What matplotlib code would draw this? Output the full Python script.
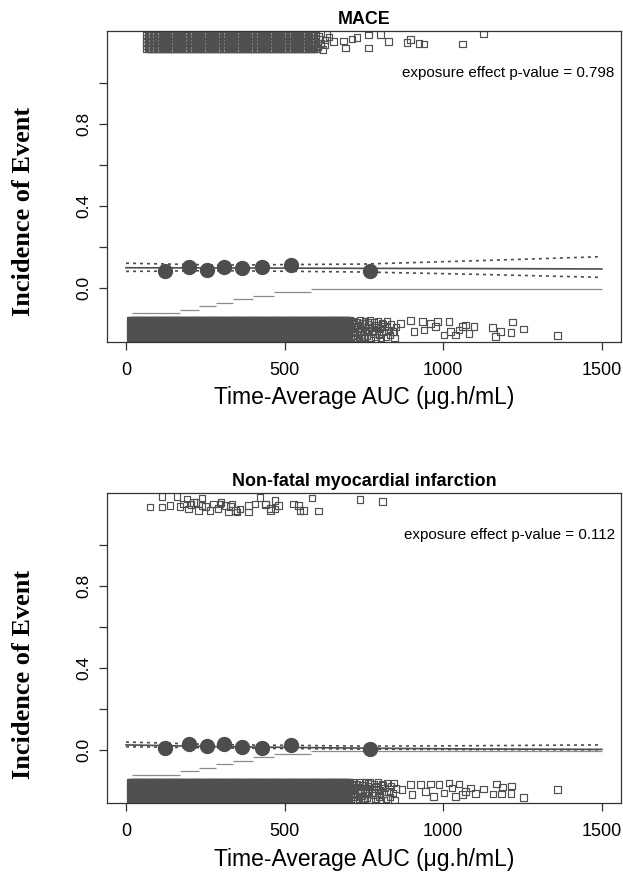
import numpy as np
import matplotlib
matplotlib.use("Agg")
import matplotlib.pyplot as plt

# bins of time-average AUC (shared by both panels)
bin_edges = [20, 170, 230, 283, 336, 399, 467, 584, 1500]
bin_levels = [-0.124, -0.106, -0.088, -0.071, -0.054, -0.037, -0.020, -0.004]
bin_auc = [123, 199, 256, 309, 366, 429, 521, 770]

# logistic fit + 95% CI, read at these AUC values
fit_auc = [0, 300, 750, 1100, 1500]

mace_obs = [0.083, 0.104, 0.088, 0.104, 0.099, 0.101, 0.112, 0.083]
mace_fit = [0.099, 0.098, 0.096, 0.095, 0.093]
mace_hi = [0.121, 0.112, 0.117, 0.133, 0.153]
mace_lo = [0.081, 0.085, 0.078, 0.067, 0.052]

mi_obs = [0.010, 0.028, 0.018, 0.028, 0.013, 0.010, 0.021, 0.006]
mi_fit = [0.024, 0.015, 0.008, 0.004, 0.002]
mi_hi = [0.038, 0.025, 0.018, 0.020, 0.024]
mi_lo = [0.015, 0.009, 0.003, 0.001, 0.000]

# non-event patients (jittered near the bottom), dense part
nonevent_auc = [
    12, 15, 18, 21, 24, 27, 30, 33, 36, 39, 42, 45, 48, 51, 54, 57, 60, 63, 66, 69,
    72, 75, 78, 81, 84, 87, 90, 93, 96, 99, 102, 105, 108, 111, 114, 117, 120, 123,
    126, 129, 132, 135, 138, 141, 144, 147, 150, 153, 156, 159, 162, 165, 168, 171,
    174, 177, 180, 183, 186, 189, 192, 195, 198, 201, 204, 207, 210, 213, 216, 219,
    222, 225, 228, 231, 234, 237, 240, 243, 246, 249, 252, 255, 258, 261, 264, 267,
    270, 273, 276, 279, 282, 285, 288, 291, 294, 297, 300, 303, 306, 309, 312, 315,
    318, 321, 324, 327, 330, 333, 336, 339, 342, 345, 348, 351, 354, 357, 360, 363,
    366, 369, 372, 375, 378, 381, 384, 387, 390, 393, 396, 399, 402, 405, 408, 411,
    414, 417, 420, 423, 426, 429, 432, 435, 438, 441, 444, 447, 450, 453, 456, 459,
    462, 465, 468, 471, 474, 477, 480, 483, 486, 489, 492, 495, 498, 501, 504, 507,
    510, 513, 516, 519, 522, 525, 528, 531, 534, 537, 540, 543, 546, 549, 552, 555,
    558, 561, 564, 567, 570, 573, 576, 579, 582, 585, 588, 591, 594, 597, 600, 603,
    606, 609, 612, 615, 618, 621, 624, 627, 630, 633, 636, 639, 642, 645, 648, 651,
    654, 657, 660, 663, 666, 669, 672, 675, 678, 681, 684, 687, 690, 693, 696, 699, 702]
nonevent_jitter = [-0.158, -0.175, -0.192, -0.209, -0.226, -0.243]

# thinner stretch of non-events
nonevent_mid_x = [704, 706, 709, 711, 714, 716, 719, 721, 724, 727, 729, 732, 735, 737,
                  740, 743, 746, 748, 751, 754, 757, 760, 763, 766, 769, 772, 775, 778,
                  781, 784, 787, 790, 794, 797, 800, 804, 807, 811, 815, 819, 823, 827,
                  832, 836, 841, 846, 851, 708, 718, 728, 738, 750, 762, 774, 786, 798,
                  810]
nonevent_mid_y = [-0.158, -0.200, -0.240, -0.175, -0.218, -0.160, -0.232, -0.190,
                  -0.245, -0.168, -0.210, -0.182, -0.238, -0.157, -0.200, -0.226,
                  -0.172, -0.245, -0.190, -0.160, -0.215, -0.235, -0.178, -0.205,
                  -0.158, -0.243, -0.192, -0.222, -0.168, -0.208, -0.240, -0.180,
                  -0.160, -0.228, -0.198, -0.245, -0.170, -0.215, -0.188, -0.238,
                  -0.162, -0.205, -0.230, -0.178, -0.212, -0.245, -0.190, -0.185,
                  -0.170, -0.228, -0.195, -0.240, -0.165, -0.212, -0.182, -0.222,
                  -0.175]

# sparse tails of non-events
mace_tail_x = [823, 844, 865, 897, 907, 934, 939, 960, 976, 981, 1002, 1018, 1023, 1039,
               1049, 1060, 1070, 1081, 1097, 1155, 1181, 1165, 1213, 1218, 1253, 1360]
mace_tail_y = [-0.189, -0.213, -0.172, -0.159, -0.213, -0.164, -0.205, -0.172, -0.189,
               -0.164, -0.229, -0.164, -0.213, -0.229, -0.205, -0.189, -0.180, -0.221,
               -0.189, -0.192, -0.213, -0.237, -0.218, -0.167, -0.201, -0.232]
mi_tail_x = [844, 870, 897, 902, 928, 944, 960, 970, 986, 1002, 1018, 1028, 1039, 1049,
             1060, 1070, 1086, 1102, 1126, 1157, 1167, 1184, 1186, 1215, 1213, 1253, 1360]
mi_tail_y = [-0.163, -0.195, -0.171, -0.220, -0.171, -0.203, -0.167, -0.228, -0.171,
             -0.212, -0.163, -0.187, -0.228, -0.167, -0.220, -0.203, -0.187, -0.215,
             -0.192, -0.216, -0.167, -0.216, -0.182, -0.178, -0.215, -0.233, -0.195]

# MACE events (jittered near the top), dense part
mace_event_auc = [
    65, 69, 73, 77, 81, 85, 89, 93, 97, 101, 105, 109, 113, 117, 121, 125, 129, 133,
    137, 141, 145, 149, 153, 157, 161, 165, 169, 173, 177, 181, 185, 189, 193, 197,
    201, 205, 209, 213, 217, 221, 225, 229, 233, 237, 241, 245, 249, 253, 257, 261,
    265, 269, 273, 277, 281, 285, 289, 293, 297, 301, 305, 309, 313, 317, 321, 325,
    329, 333, 337, 341, 345, 349, 353, 357, 361, 365, 369, 373, 377, 381, 385, 389,
    393, 397, 401, 405, 409, 413, 417, 421, 425, 429, 433, 437, 441, 445, 449, 453,
    457, 461, 465, 469, 473, 477, 481, 485, 489, 493, 497, 501, 505, 509, 513, 517,
    521, 525, 529, 533, 537, 541, 545, 549, 553, 557, 561, 565, 569, 573, 577, 581,
    585, 589, 593, 597]
mace_event_jitter = [1.168, 1.185, 1.202, 1.219, 1.236]
mace_event_x = [603, 609, 615, 621, 627, 633, 600, 612, 625, 640, 654, 686, 692, 713,
                728, 765, 765, 802, 828, 886, 897, 923, 939, 1060, 1126]
mace_event_y = [1.176, 1.228, 1.195, 1.165, 1.212, 1.240, 1.170, 1.215, 1.190, 1.225,
                1.203, 1.205, 1.171, 1.216, 1.222, 1.236, 1.171, 1.238, 1.203, 1.198,
                1.214, 1.195, 1.192, 1.192, 1.240]

# non-fatal MI events
mi_event_x = [76, 113, 113, 139, 160, 170, 181, 192, 197, 205, 213, 220, 228, 239, 239,
              250, 265, 276, 290, 297, 300, 313, 323, 330, 334, 345, 350, 360, 386, 386,
              407, 423, 439, 440, 455, 455, 470, 470, 481, 528, 544, 549, 560, 586, 607,
              737, 809]
mi_event_y = [1.187, 1.187, 1.239, 1.195, 1.239, 1.190, 1.203, 1.227, 1.179, 1.200,
              1.211, 1.210, 1.171, 1.232, 1.195, 1.190, 1.171, 1.203, 1.180, 1.203,
              1.210, 1.195, 1.163, 1.190, 1.203, 1.170, 1.163, 1.179, 1.163, 1.195,
              1.203, 1.235, 1.203, 1.200, 1.171, 1.180, 1.219, 1.179, 1.195, 1.203,
              1.195, 1.171, 1.171, 1.232, 1.168, 1.224, 1.216]

SANS = "Liberation Sans"
SERIF = "Liberation Serif"
DARK = "#4d4d4d"


def squares(ax, x, y):
    ax.scatter(x, y, marker="s", s=22, facecolors="none", edgecolors="#505050",
               linewidths=0.85, zorder=2)


def draw_panel(ax, title, pval, obs, fit, lo, hi, ev_dense, ev_jit, ev_x, ev_y,
               tail_x, tail_y):
    # jittered raw data
    squares(ax, np.repeat(nonevent_auc, len(nonevent_jitter)),
            np.tile(nonevent_jitter, len(nonevent_auc)))
    squares(ax, nonevent_mid_x, nonevent_mid_y)
    squares(ax, tail_x, tail_y)
    if ev_dense is not None:
        squares(ax, np.repeat(ev_dense, len(ev_jit)), np.tile(ev_jit, len(ev_dense)))
    squares(ax, ev_x, ev_y)

    # bin ranges
    ax.hlines(bin_levels, bin_edges[:-1], bin_edges[1:], colors="#8c8c8c",
              linewidth=0.9, zorder=3)

    # model fit and CI
    ax.plot(fit_auc, fit, color=DARK, linewidth=1.2, zorder=4)
    ax.plot(fit_auc, hi, color=DARK, linewidth=1.2, linestyle=(0, (1.8, 2.4)), zorder=4)
    ax.plot(fit_auc, lo, color=DARK, linewidth=1.2, linestyle=(0, (1.8, 2.4)), zorder=4)

    # observed proportions per bin
    ax.scatter(bin_auc, obs, s=100, color=DARK, zorder=5)

    ax.text(1540, 1.05, "exposure effect p-value = " + pval, ha="right", va="center",
            fontsize=10.9, family=SANS)
    ax.set_title(title, fontsize=12.9, fontweight="bold", family=SANS, pad=5)

    ax.set_xlim(-60, 1560)
    ax.set_ylim(-0.262, 1.255)
    ax.set_xticks([0, 500, 1000, 1500])
    ax.set_xticklabels(["0", "500", "1000", "1500"], fontsize=13, family=SANS)
    ax.set_yticks([0, 0.2, 0.4, 0.6, 0.8, 1.0])
    ax.set_yticklabels(["0.0", "", "0.4", "", "0.8", ""], fontsize=12.5, family=SANS)
    ax.tick_params(axis="x", length=6, width=0.9, color="#333333", pad=8.5)
    ax.tick_params(axis="y", length=6, width=0.9, color="#333333", pad=5.5,
                   labelrotation=90)
    plt.setp(ax.get_yticklabels(), va="center")
    for sp in ax.spines.values():
        sp.set_color("#333333")
        sp.set_linewidth(0.9)

    ax.set_xlabel("Time-Average AUC (\u03bcg.h/mL)", fontsize=16.5, family=SANS,
                  va="center")
    ax.xaxis.set_label_coords(0.5, -0.18)


def main():
    fig = plt.figure(figsize=(6.23, 8.77), dpi=100)
    ax1 = fig.add_axes([0.1717, 0.6104, 0.8250, 0.3543])
    ax2 = fig.add_axes([0.1717, 0.0840, 0.8250, 0.3535])

    draw_panel(ax1, "MACE", "0.798", mace_obs, mace_fit, mace_lo, mace_hi,
               mace_event_auc, mace_event_jitter, mace_event_x, mace_event_y,
               mace_tail_x, mace_tail_y)
    draw_panel(ax2, "Non-fatal myocardial infarction", "0.112", mi_obs, mi_fit, mi_lo,
               mi_hi, None, None, mi_event_x, mi_event_y, mi_tail_x, mi_tail_y)

    for yc in [211, 674]:
        fig.text(24 / 623, 1 - yc / 877, "Incidence of Event", rotation=90,
                 ha="center", va="center", fontsize=19, fontweight="bold",
                 family=SERIF)

    fig.savefig("out.png", dpi=100)


if __name__ == "__main__":
    main()
